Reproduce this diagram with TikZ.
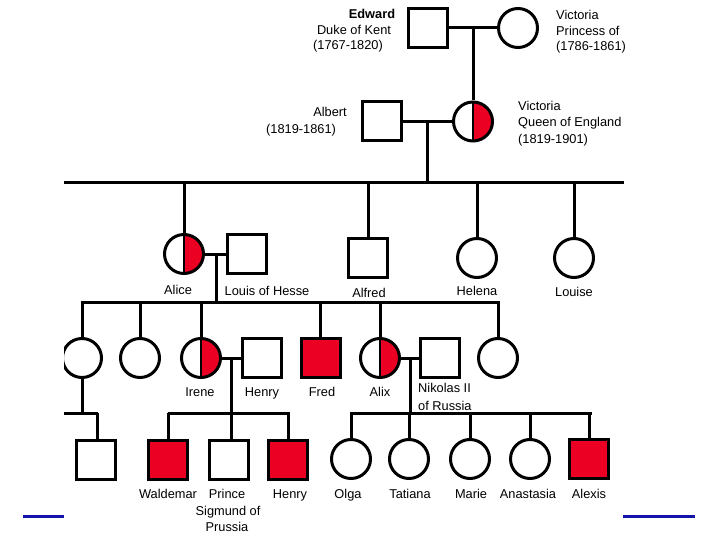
\documentclass[tikz,border=0pt]{standalone}
\usepackage{fontspec}
\setmainfont{Liberation Sans}
\definecolor{pedred}{RGB}{235,0,35}
\definecolor{slideblue}{RGB}{20,20,170}
\begin{document}
\begin{tikzpicture}[x=1pt,y=-1pt,
  line/.style={line width=3pt},
  male/.style={draw, line width=3pt, rectangle, minimum size=39pt, inner sep=0pt, fill=white},
  female/.style={draw, line width=3pt, circle, minimum size=39pt, inner sep=0pt, fill=white},
  affected/.style={fill=pedred},
  carrier/.style={female, path picture={
      \fill[pedred] (path picture bounding box.north) rectangle (path picture bounding box.south east);
      \draw[line width=2pt] (path picture bounding box.north) -- (path picture bounding box.south);}},
  txt/.style={inner sep=0pt, font=\fontsize{12.8}{15}\selectfont, text height=9pt, text depth=0pt},
  deco/.style={slideblue, line width=3pt}
]
\useasboundingbox[fill=white] (0,0) rectangle (720,540);

\begin{scope}
\clip (64,0) rectangle (720,540);
% generation 1
\node[male] (edward) at (428,28) {};
\node[female] (vicp) at (518,28) {};
\coordinate (m1) at (473,28);
% generation 1b
\node[carrier] (vicq) at (473,121.5) {};
\node[male] (albert) at (382,121.5) {};
\coordinate (m2) at (427,121.5);
\coordinate (s2L) at (40,183);
\coordinate (s2R) at (623.5,183);
% generation 2
\node[carrier] (alice) at (184,254) {};
\node[male] (louis) at (247,254) {};
\node[male] (alfred) at (368,257.5) {};
\node[female] (helena) at (477,258) {};
\node[female] (louise) at (574,258) {};
\coordinate (m3) at (216,254);
\coordinate (s3L) at (80.5,302);
\coordinate (s3R) at (500,302);
% generation 3
\node[female] (c1) at (82,358) {};
\node[female] (c2) at (140,358) {};
\node[carrier] (irene) at (201,358) {};
\node[male] (henry) at (261.5,358) {};
\node[male, affected] (fred) at (320.5,358) {};
\node[carrier] (alix) at (380,358) {};
\node[male] (nikolas) at (440,358) {};
\node[female] (c8) at (498,358) {};
\coordinate (m4) at (231,358);
\coordinate (m5) at (410,358);
% generation 4
\coordinate (s4aL) at (40,413);
\coordinate (s4aR) at (97.5,413);
\node[male] (s1) at (96,459.5) {};
\coordinate (s4bL) at (167.5,413);
\coordinate (s4bR) at (289.5,413);
\node[male, affected] (waldemar) at (168,459.5) {};
\node[male] (sigmund) at (229,459.5) {};
\node[male, affected] (henryj) at (288,459.5) {};
\coordinate (s4cL) at (349.5,413);
\coordinate (s4cR) at (591.5,413);
\node[female] (olga) at (351,459) {};
\node[female] (tatiana) at (409,459) {};
\node[female] (marie) at (470,459) {};
\node[female] (anastasia) at (530,459) {};
\node[male, affected] (alexis) at (589,459) {};

% connectors
\draw[line] (edward.east) -- (vicp.west);
\draw[line] (m1) -- (vicq.north);
\draw[line] (albert.east) -- (vicq.west);
\draw[line] (m2) -- (m2 |- s2L);
\draw[line] (s2L) -- (s2R);
\draw[line] (alice.north) -- (alice.north |- s2L);
\draw[line] (alfred.north) -- (alfred.north |- s2L);
\draw[line] (helena.north) -- (helena.north |- s2L);
\draw[line] (louise.north) -- (louise.north |- s2L);
\draw[line] (alice.east) -- (louis.west);
\draw[line] (m3) -- (m3 |- s3L);
\draw[line] (s3L) -- (s3R);
\foreach \n in {c1,c2,irene,fred,alix,c8}
  \draw[line] (\n.north) -- (\n.north |- s3L);
\draw[line] (irene.east) -- (henry.west);
\draw[line] (alix.east) -- (nikolas.west);
\draw[line] (c1.south) -- (c1.south |- s4aL);
\draw[line] (s4aL) -- (s4aR);
\draw[line] (s4aR) -- (s4aR |- s1.north);
\draw[line] (m4) -- (m4 |- s4bL);
\draw[line] (s4bL) -- (s4bR);
\draw[line] (waldemar.north) -- (waldemar.north |- s4bL);
\draw[line] (m4 |- s4bL) -- (m4 |- sigmund.north);
\draw[line] (henryj.north) -- (henryj.north |- s4bL);
\draw[line] (m5) -- (m5 |- s4cL);
\draw[line] (s4cL) -- (s4cR);
\foreach \n in {olga,tatiana,marie,anastasia,alexis}
  \draw[line] (\n.north) -- (\n.north |- s4cL);
\end{scope}

% labels
\node[txt, font=\fontsize{12.8}{15}\selectfont\bfseries] (tEdward) at (372,14) {Edward};
\node[txt] (tDuke) at (354,30) {Duke of Kent};
\node[txt] (tEdDates) at (348,45) {(1767-1820)};
\node[txt, anchor=west] (tVicP) at (556,15) {Victoria};
\node[txt, anchor=west] (tPrincess) at (556,31) {Princess of};
\node[txt, anchor=west] (tVicPDates) at (556,46) {(1786-1861)};
\node[txt, anchor=east] (tAlbert) at (347,112) {Albert};
\node[txt, anchor=west] (tAlbDates) at (266,129) {(1819-1861)};
\node[txt, anchor=west] (tVicQ) at (518,106) {Victoria};
\node[txt, anchor=west] (tQueen) at (518,122) {Queen of England};
\node[txt, anchor=west] (tVicQDates) at (518,139) {(1819-1901)};
\node[txt] (tAlice) at (178,290) {Alice};
\node[txt] (tLouis) at (267,291) {Louis of Hesse};
\node[txt] (tAlfred) at (369,293) {Alfred};
\node[txt] (tHelena) at (477,291) {Helena};
\node[txt] (tLouise) at (574,292) {Louise};
\node[txt] (tIrene) at (200,392) {Irene};
\node[txt] (tHenry) at (262,392) {Henry};
\node[txt] (tFred) at (322,392) {Fred};
\node[txt] (tAlix) at (380,392) {Alix};
\node[txt, anchor=west] (tNik) at (418,388) {Nikolas II};
\node[txt, anchor=west] (tNik2) at (418,406) {of Russia};
\node[txt] (tWald) at (168,494) {Waldemar};
\node[txt] (tPrince) at (227,494) {Prince};
\node[txt] (tSig) at (228,511) {Sigmund of};
\node[txt] (tPrussia) at (227,527) {Prussia};
\node[txt] (tHenryj) at (290,494) {Henry};
\node[txt] (tOlga) at (348,494) {Olga};
\node[txt] (tTat) at (410,494) {Tatiana};
\node[txt] (tMarie) at (471,494) {Marie};
\node[txt] (tAna) at (528,494) {Anastasia};
\node[txt] (tAlexis) at (589,494) {Alexis};

% slide decoration
\coordinate (bl1) at (23,516);
\coordinate (bl2) at (64,516);
\coordinate (br1) at (623,516);
\coordinate (br2) at (695,516);
\draw[deco] (bl1) -- (bl2);
\draw[deco] (br1) -- (br2);
\end{tikzpicture}
\end{document}
